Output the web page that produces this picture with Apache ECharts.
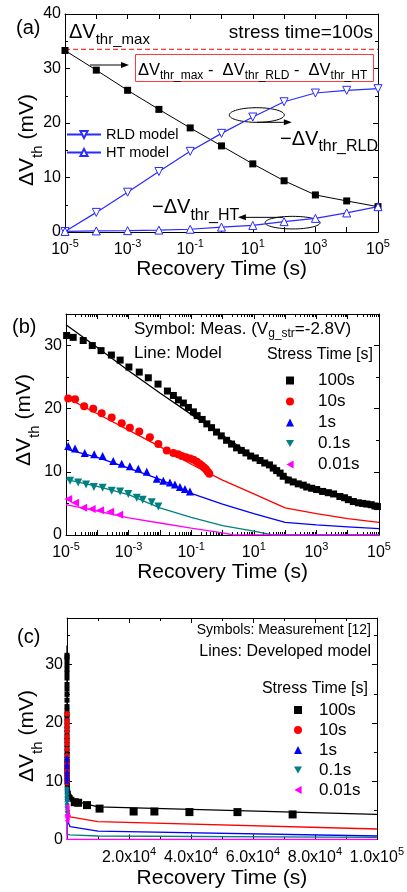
<!DOCTYPE html>
<html><head><meta charset="utf-8">
<script src="https://cdn.jsdelivr.net/npm/echarts@6/dist/echarts.min.js"></script>
<style>html,body{margin:0;padding:0;background:#fff}#c{width:407px;height:892px}</style>
</head><body><div id="c"></div>
<script>
const FONT = 'Liberation Sans';

// ---------------- Panel (a): stress time = 100 s ----------------
const aLogT   = [-5,-4,-3,-2,-1,0,1,2,3,4,5];
const aRemain = [33.3,29.7,26.0,22.5,19.1,15.8,12.5,9.4,6.8,5.7,4.65];
const aRLD    = [0.1,3.6,7.3,11.1,14.8,18.1,21.1,23.9,25.5,26.0,26.3];
const aHT     = [0.1,0.2,0.25,0.35,0.5,0.9,1.2,1.9,2.5,3.5,4.65];
const aMaxLevel = 33.5;

// ---------------- Panel (b): measurement (log10 t, mV) ----------------
const b100LogT = [-4.98,-4.77,-4.45,-4.16,-3.88,-3.55,-3.27,-2.99,-2.66,-2.37,-2.06,-1.76,-1.57,-1.41,-1.25,-1.09,-0.93,-0.81,-0.65,-0.50,-0.35,-0.19,-0.04,0.13,0.29,0.45,0.60,0.75,0.90,1.05,1.20,1.35,1.50,1.62,1.73,1.84,1.94,2.10,2.26,2.42,2.58,2.69,2.85,3.01,3.20,3.38,3.55,3.75,3.90,4.02,4.18,4.34,4.48,4.61,4.75,4.87,4.95];
const b100V    = [31.6,31.3,30.8,30.0,29.2,28.5,27.7,26.6,25.8,24.9,23.9,22.8,22.1,21.4,20.9,20.2,19.5,18.9,18.3,17.6,17.0,16.3,15.7,15.0,14.4,13.8,13.4,13.0,12.5,12.2,11.8,11.4,11.1,10.6,10.2,9.8,9.3,8.7,8.4,8.1,7.9,7.6,7.4,7.2,6.9,6.7,6.5,6.1,5.9,5.6,5.3,5.1,5.0,4.9,4.8,4.6,4.5];
const b10LogT  = [-4.93,-4.71,-4.42,-4.13,-3.86,-3.54,-3.22,-2.96,-2.66,-2.32,-2.05,-1.78,-1.57,-1.42,-1.30,-1.17,-1.04,-0.93,-0.82,-0.74,-0.66,-0.59,-0.53,-0.47,-0.42];
const b10V     = [21.6,21.5,20.4,20.0,19.3,18.6,17.7,17.0,16.4,15.5,14.4,13.4,13.0,12.8,12.5,12.3,12.1,11.9,11.6,11.3,11.0,10.7,10.4,10.0,9.7];
const b1LogT   = [-4.93,-4.71,-4.40,-4.10,-3.83,-3.49,-3.22,-2.96,-2.69,-2.42,-2.10,-1.89,-1.68,-1.52,-1.36,-1.20,-1.04];
const b1V      = [14.1,13.7,13.0,12.8,12.5,11.7,11.3,10.9,10.5,10.0,8.9,8.6,8.3,8.0,7.6,7.3,6.9];
const b01LogT  = [-4.87,-4.61,-4.36,-4.11,-3.83,-3.54,-3.27,-3.01,-2.74,-2.55,-2.26,-2.05];
const b01V     = [8.6,8.3,8.0,7.6,7.5,7.0,6.9,6.5,5.9,5.6,5.2,4.5];
const b001LogT = [-4.93,-4.71,-4.45,-4.18,-3.91,-3.59,-3.30];
const b001V    = [5.7,5.1,4.3,4.1,3.9,3.7,3.2];

// ---------------- Panel (b): model lines ----------------
const bModelLogT   = [-5,-4,-3,-2,-1,0,1,2,3,4,5];
const bModel100    = [33.3,29.7,26.0,22.5,19.1,15.8,12.5,9.4,6.8,5.7,4.65];
const bModel10     = [21.8,19.2,16.6,14.0,11.2,8.7,6.5,4.3,3.4,2.6,2.0];
const bModel1      = [13.6,12.3,10.6,8.8,6.6,4.9,3.4,2.0,1.6,1.3,1.0];
const bModel01LogT = [-5,-4,-3,-2,-1,0,1,1.6,2,3,4,5];
const bModel01     = [8.8,7.7,6.4,4.3,2.8,1.5,0.6,0,0,0,0,0];
const bModel001LogT= [-5,-4,-3,-2,-1,0,0.35,1,2,3,4,5];
const bModel001    = [4.8,3.8,2.7,1.9,1.1,0.35,0,0,0,0,0,0];

// ---------------- Panel (c): linear time axis ----------------
const cMeas100T = [2500,3600,6450,10500,21500,28200,39500,55000,72800];
const cMeas100V = [6.4,6.3,5.9,5.3,4.8,4.8,4.7,4.7,4.3];
const cModelT    = [1e-5,1e-1,10,1e3,1e4,1e5];
const cModel100  = [33.3,19.1,12.5,6.8,5.6,4.3];
const cModel10   = [21.8,11.2,6.5,3.9,3.05,1.8];
const cModel1    = [13.6,6.6,3.4,2.2,1.45,0.6];
const cModel01   = [8.8,2.8,0.9,0.8,0.6,0.35];
const cModel001  = [4.8,1.1,0,0,0,0];

const stressNames = ['100s','10s','1s','0.1s','0.01s'];

const COL = {k:'#000000', r:'#ff0000', b:'#0000ff', t:'#008080', m:'#ff00ff', lb:'#2a2aff'};
// legend icons (square, circle, up, down, left triangles)
const ICONS = ['rect','circle','triangle','path://M0,0L10,0L5,9Z','path://M9,0L9,10L0,5Z'];

const pow10 = a => a.map(e => Math.pow(10, e));
const zip = (x, y) => x.map((v, i) => [v, y[i]]);
const aT = pow10(aLogT);

function tickRich(fs){
  return {
    b:{fontSize:fs, fontFamily:FONT, color:'#000'},
    s:{fontSize:Math.round(fs*0.68), fontFamily:FONT, color:'#000', padding:[0,0,12,0]}
  };
}
const lineBlack = {show:true, onZero:false, lineStyle:{color:'#000', width:1}};
const tickIn = {show:true, inside:true, length:5, lineStyle:{color:'#000', width:1}};

function xLogPair(g, nameGap){
  const common = {type:'log', logBase:10, gridIndex:g, min:1e-5, max:1e5, interval:1, splitNumber:10,
    splitLine:{show:false}, axisLine:lineBlack, axisTick:tickIn};
  return [
    Object.assign({}, common, {position:'bottom',
      axisLabel:{margin:6, formatter:v=>{const e=Math.round(Math.log10(v)); return Math.abs(e)%2===1?`{b|10}{s|${e}}`:'';}, rich:tickRich(16)},
      name:'Recovery Time (s)', nameLocation:'middle', nameGap:nameGap,
      nameTextStyle:{fontSize:21, fontFamily:FONT, color:'#000'}}),
    Object.assign({}, common, {position:'top', axisLabel:{show:false}})
  ];
}
function yPair(g, max, fs){
  const common = {type:'value', gridIndex:g, min:0, max:max, interval:10, splitLine:{show:false},
    axisLine:lineBlack, axisTick:tickIn,
    minorTick:{show:true, splitNumber:2, length:3, lineStyle:{color:'#000'}}};
  return [
    Object.assign({}, common, {position:'left', axisLabel:{margin:4, fontSize:fs, fontFamily:FONT, color:'#000', showMaxLabel: max%10===0}}),
    Object.assign({}, common, {position:'right', axisLabel:{show:false}})
  ];
}

const xLinC = {type:'value', gridIndex:2, min:0, max:1e5, interval:2e4, splitLine:{show:false},
  axisLine:lineBlack, axisTick:tickIn, minorTick:{show:true, splitNumber:2, length:3, lineStyle:{color:'#000'}}};

const xAxes = [
  ...xLogPair(0, 24),
  ...xLogPair(1, 23),
  Object.assign({}, xLinC, {position:'bottom',
    axisLabel:{margin:7, formatter:v=>{ if(v===0) return ''; const e=Math.floor(Math.log10(v)+1e-9); return `{b|${(v/Math.pow(10,e)).toFixed(1)}x10}{s|${e}}`;}, rich:tickRich(16)},
    name:'Recovery Time (s)', nameLocation:'middle', nameGap:28, nameTextStyle:{fontSize:21, fontFamily:FONT, color:'#000'}}),
  Object.assign({}, xLinC, {position:'top', axisLabel:{show:false}})
];
const yAxes = [...yPair(0, 40, 16), ...yPair(1, 35, 16), ...yPair(2, 38, 16)];

// minor log ticks for panel (b)
const minorLog = [];
for (let e=-5; e<5; e++) for (let k=2; k<=9; k++) minorLog.push([k*Math.pow(10,e), 0]);

const series = [];
// ---- (a)
series.push({name:'maxLevel', type:'line', xAxisIndex:0, yAxisIndex:0, silent:true,
  data:[[1e-5, aMaxLevel],[1e5, aMaxLevel]], showSymbol:false, symbol:'none',
  lineStyle:{color:'#ff3b3b', type:[5,3], width:1.3}, z:1});
series.push({name:'remain', type:'line', xAxisIndex:0, yAxisIndex:0, data:zip(aT, aRemain),
  symbol:'rect', symbolSize:7, itemStyle:{color:'#000'}, lineStyle:{color:'#000', width:1}, z:3});
series.push({name:'RLD model', type:'line', xAxisIndex:0, yAxisIndex:0, data:zip(aT, aRLD),
  symbol:'triangle', symbolRotate:180, symbolSize:8,
  itemStyle:{color:'#fff', borderColor:COL.lb, borderWidth:1}, lineStyle:{color:COL.lb, width:1.2}});
series.push({name:'HT model', type:'line', xAxisIndex:0, yAxisIndex:0, data:zip(aT, aHT),
  symbol:'triangle', symbolSize:8,
  itemStyle:{color:'#fff', borderColor:COL.lb, borderWidth:1}, lineStyle:{color:COL.lb, width:1.2}});

// ---- (b) model lines
const bModels = [
  [bModelLogT, bModel100, COL.k], [bModelLogT, bModel10, COL.r], [bModelLogT, bModel1, COL.b],
  [bModel01LogT, bModel01, COL.t], [bModel001LogT, bModel001, COL.m]];
bModels.forEach((m, i) => series.push({name:'model'+i, type:'line', xAxisIndex:2, yAxisIndex:2,
  data:zip(pow10(m[0]), m[1]), showSymbol:false, symbol:'none', lineStyle:{color:m[2], width:1.3}, z:2}));

// ---- (b) measured symbols
const meas = [
  ['100s', b100LogT, b100V, 'rect', 0, 7, COL.k],
  ['10s',  b10LogT,  b10V,  'circle', 0, 8, COL.r],
  ['1s',   b1LogT,   b1V,   'triangle', 0, 8, COL.b],
  ['0.1s', b01LogT,  b01V,  'triangle', 180, 8, COL.t],
  ['0.01s',b001LogT, b001V, 'triangle', 90, 8, COL.m]];
meas.forEach(m => series.push({name:m[0], type:'scatter', xAxisIndex:2, yAxisIndex:2,
  data:zip(pow10(m[1]), m[2]), symbol:m[3], symbolRotate:m[4], symbolSize:m[5], itemStyle:{color:m[6], opacity:1}, z:3}));

series.push({name:'minorTicks', type:'custom', xAxisIndex:2, yAxisIndex:2, data:minorLog, silent:true, clip:false,
  renderItem:(params, api)=>{
    const t = api.value(0);
    const p0 = api.coord([t, 0]); const p1 = api.coord([t, 35]);
    const x = Math.round(p0[0]) + 0.5;
    return {type:'group', children:[
      {type:'line', shape:{x1:x, y1:p0[1], x2:x, y2:p0[1]-3}, style:{stroke:'#000', lineWidth:1}},
      {type:'line', shape:{x1:x, y1:p1[1], x2:x, y2:p1[1]+3}, style:{stroke:'#000', lineWidth:1}}]};
  }});

// ---- (c) model lines
[[cModel100,COL.k],[cModel10,COL.r],[cModel1,COL.b],[cModel01,COL.t],[cModel001,COL.m]].forEach((m,i)=>
  series.push({name:'cmodel'+i, type:'line', xAxisIndex:4, yAxisIndex:4, data:zip(cModelT, m[0]),
    showSymbol:false, symbol:'none', lineStyle:{color:m[1], width:1.3}, z:2}));
// ---- (c) early measurements (same data as (b), shown on linear axis)
meas.forEach(m => {
  const pts = zip(pow10(m[1]), m[2]).filter(p => p[0] < 2000);
  series.push({name:m[0], type:'scatter', xAxisIndex:4, yAxisIndex:4, data:pts,
    symbol:m[3], symbolRotate:m[4], symbolSize:5, itemStyle:{color:m[6], opacity:1}, z:3});
});
series.push({name:'100s', type:'scatter', xAxisIndex:4, yAxisIndex:4, data:zip(cMeas100T, cMeas100V),
  symbol:'rect', symbolSize:8, itemStyle:{color:'#000', opacity:1}, z:3});

const legendData = () => stressNames.map((n, i) => ({name:n, icon:ICONS[i], itemStyle:{color:meas[i][6], opacity:1}}));

const option = {
  animation:false,
  backgroundColor:'#fff',
  textStyle:{fontFamily:FONT},
  grid:[
    {left:65, top:14, width:313, height:218},
    {left:66, top:314, width:313, height:221},
    {left:67, top:618, width:310, height:221.5}
  ],
  xAxis: xAxes,
  yAxis: yAxes,
  legend:[
    {data:['RLD model','HT model'], orient:'vertical', left:66, top:127, padding:0, itemWidth:34, itemHeight:9, itemGap:3,
      selectedMode:false, textStyle:{fontSize:14.5, fontFamily:FONT, color:'#000'}},
    {data:legendData(), orient:'vertical', left:286, top:372, padding:0, itemWidth:8, itemHeight:8, itemGap:4,
      selectedMode:false, textStyle:{fontSize:17, fontFamily:FONT, color:'#000', padding:[0,0,0,19]}},
    {data:legendData(), orient:'vertical', left:294, top:701.5, padding:0, itemWidth:8, itemHeight:8, itemGap:3,
      selectedMode:false, textStyle:{fontSize:17, fontFamily:FONT, color:'#000', padding:[0,0,0,12]}}
  ],
  series: series
};
const chart = echarts.init(document.getElementById('c'), null, {renderer:'canvas', width:407, height:892});
chart.setOption(option);

// ---------------- annotations ----------------
const P = (xi, yi, pt) => chart.convertToPixel({xAxisIndex:xi, yAxisIndex:yi}, pt);
function arrow(x1,y1,x2,y2){
  const a = Math.atan2(y2-y1, x2-x1), L = 8, W = 3;
  const bx = x2 - L*Math.cos(a), by = y2 - L*Math.sin(a);
  return [
    {type:'line', shape:{x1:x1, y1:y1, x2:bx, y2:by}, style:{stroke:'#000', lineWidth:1}},
    {type:'polygon', shape:{points:[[x2,y2],[bx - W*Math.sin(a), by + W*Math.cos(a)],[bx + W*Math.sin(a), by - W*Math.cos(a)]]}, style:{fill:'#000'}}
  ];
}
function rt(x, y, text, rich, extra){
  const style = Object.assign({text:text, fill:'#000', fontFamily:FONT}, extra||{});
  if (rich) style.rich = rich;
  return {type:'text', x:x, y:y, silent:true, style:style};
}
const subRich = (m, s, p) => ({m:{fontSize:m, fontFamily:FONT, color:'#000'}, s:{fontSize:s, fontFamily:FONT, color:'#000', padding:[p,0,0,0]}});

const e1 = P(0,0,[aT[6], aRLD[6]]) || [253,117];
const e2 = P(0,0,[aT[7], aHT[7]]) || [285,222];
const c1 = [e1[0]+4, e1[1]-2];
const c2 = [e2[0]+8.5, e2[1]+1];

const g = [];
g.push(rt(16, 28, '(a)', null, {fontSize:20, verticalAlign:'middle'}));
g.push(rt(12, 327, '(b)', null, {fontSize:20, verticalAlign:'middle'}));
g.push(rt(17, 637, '(c)', null, {fontSize:20, verticalAlign:'middle'}));
const yTitle = '{m|ΔV}{s|th}{m| (mV)}';
[[27,140],[24,420],[27,736]].forEach(p => { const t = rt(p[0], p[1], yTitle, subRich(21,15,22), {align:'center', verticalAlign:'middle'}); t.rotation = Math.PI/2; g.push(t); });
g.push(rt(69, 32, '{m|ΔV}{s|thr_max}', subRich(20,15,16), {verticalAlign:'middle'}));
g.push(rt(373, 33, 'stress time=100s', null, {fontSize:19, align:'right', verticalAlign:'middle'}));
g.push({type:'rect', shape:{x:135.5, y:54.5, width:238, height:27}, style:{fill:'#fff', stroke:'#ff3b3b', lineWidth:1}, z:10});
const boxT = rt(138, 70, '{m|ΔV}{s|thr_max}{m| -  ΔV}{s|thr_RLD}{m| -  ΔV}{s|thr_HT}', subRich(16.5,12,11), {verticalAlign:'middle'}); boxT.z = 11; g.push(boxT);
arrow(90, 65, 129, 65).forEach(e => g.push(e));
g.push({type:'ellipse', shape:{cx:c1[0], cy:c1[1], rx:27.5, ry:7.3}, style:{fill:null, stroke:'#000', lineWidth:1}});
arrow(c1[0], c1[1]+7.3, c1[0]+35, c1[1]+7.3).forEach(e => g.push(e));
g.push(rt(280, 139, '{m|−ΔV}{s|thr_RLD}', subRich(20,16,16), {verticalAlign:'middle'}));
g.push({type:'ellipse', shape:{cx:c2[0], cy:c2[1], rx:27.5, ry:6.3}, style:{fill:null, stroke:'#000', lineWidth:1}});
arrow(c2[0]-9.7, c2[1]-5.3, c2[0]-54.7, c2[1]-5.3).forEach(e => g.push(e));
g.push(rt(152, 207, '{m|−ΔV}{s|thr_HT}', subRich(20,16,18), {verticalAlign:'middle'}));
g.push(rt(134, 329, '{m|Symbol: Meas. (V}{s|g_str}{m|=-2.8V)}', subRich(17,12,10), {verticalAlign:'middle'}));
g.push(rt(134, 353, 'Line: Model', null, {fontSize:17, verticalAlign:'middle'}));
g.push(rt(373, 355, 'Stress Time [s]', null, {fontSize:16, align:'right', verticalAlign:'middle'}));
g.push(rt(371, 630, 'Symbols: Measurement [12]', null, {fontSize:14, align:'right', verticalAlign:'middle'}));
g.push(rt(371, 652, 'Lines: Developed model', null, {fontSize:16, align:'right', verticalAlign:'middle'}));
g.push(rt(368, 689, 'Stress Time [s]', null, {fontSize:16, align:'right', verticalAlign:'middle'}));

chart.setOption({graphic:{elements:g}});
</script></body></html>
